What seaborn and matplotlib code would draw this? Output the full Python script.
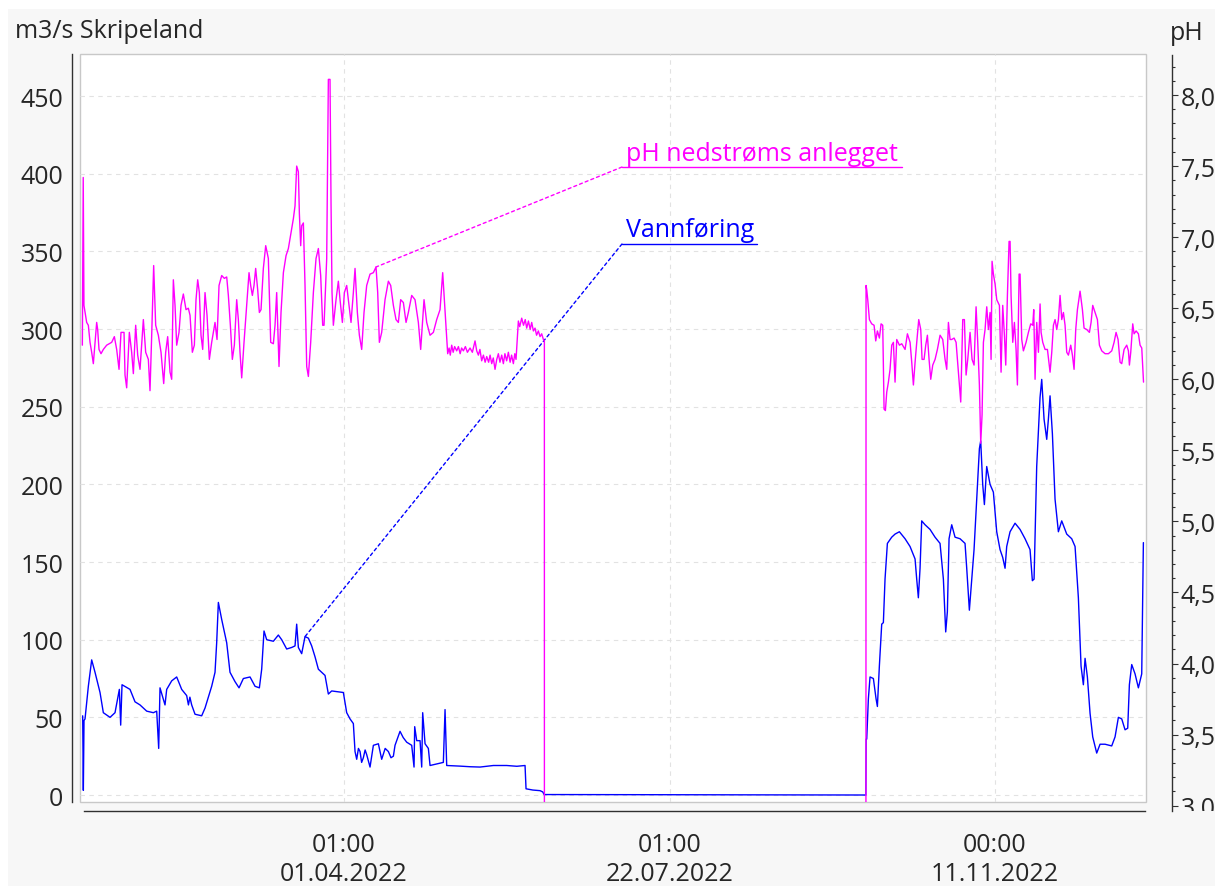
import numpy as np
import pandas as pd
import matplotlib
matplotlib.use("Agg")
import matplotlib.pyplot as plt
import matplotlib.dates as mdates
import seaborn as sns
from matplotlib.patches import Rectangle
from matplotlib.ticker import MultipleLocator, FixedLocator, FuncFormatter
from matplotlib.transforms import Bbox

# ---------------------------------------------------------------------------
# Measured series for 2022, time given as days since 2022-01-01 00:00
# ---------------------------------------------------------------------------
flow_days = [
    0.11, 0.34, 0.57, 0.92, 2.06, 3.21, 4.36, 6.08, 7.22, 9.52, 11.24, 12.73,
    13.19, 13.65, 16.40, 18.12, 19.84, 22.14, 24.43, 25.58, 26.27, 26.72, 28.44,
    29.02, 30.74, 32.46, 34.18, 35.90, 36.50, 37.00, 37.62, 38.77, 41.06, 42.21,
    44.50, 45.65, 46.22, 46.80, 47.95, 49.67, 50.81, 52.53, 53.91, 55.40, 57.70,
    59.42, 60.91, 61.71, 62.51, 63.43, 65.72, 67.44, 68.59, 70.31, 72.03, 73.18,
    73.75, 74.33, 75.47, 76.62, 77.77, 78.91, 80.06, 81.21, 83.50, 84.65, 85.80,
    89.81, 90.96, 92.11, 93.25, 93.83, 94.40, 95.00, 95.55, 96.10, 96.69, 97.30,
    97.84, 98.99, 100.14, 101.86, 103.00, 104.20, 105.30, 106.20, 107.02, 107.59,
    109.31, 110.40, 111.61, 113.33, 114.13, 114.36, 115.05, 116.20, 116.77,
    117.11, 117.92, 119.06, 119.64, 121.93, 124.22, 124.80, 125.37, 129.96,
    133.50, 136.84, 141.43, 146.02, 149.50, 152.33, 152.67, 155.00, 157.49,
    158.41, 158.90,
    269.60, 269.70, 269.90, 270.47, 271.04, 272.19, 273.11, 273.57, 274.25,
    275.06, 275.63, 276.20, 277.01, 278.50, 279.65, 281.14, 283.09, 284.81,
    286.53, 287.10, 287.67, 288.25, 288.82, 289.97, 291.69, 293.41, 295.13,
    296.28, 297.08, 297.65, 298.23, 299.15, 300.29, 302.01, 303.73, 304.31,
    305.22, 306.03, 306.83, 307.75, 308.67, 309.12, 309.81, 310.39, 311.19,
    312.34, 313.48, 314.63, 315.78, 316.69, 317.50, 318.07, 319.22, 320.94,
    322.66, 324.38, 326.10, 326.90, 327.48, 328.39, 329.54, 330.12, 330.92,
    331.84, 332.41, 332.98, 333.79, 334.70, 335.85, 337.00, 338.72, 340.44,
    341.59, 342.73, 343.65, 344.45, 345.03, 345.83, 346.75, 347.67, 349.04,
    350.19, 351.91, 354.20, 355.35, 356.50, 357.65, 358.79, 359.71, 360.28,
    361.09, 362.23, 363.38, 364.53, 365.10,
]
flow_m3s = [
    51, 3, 48, 49, 70, 87, 79, 66, 53, 50, 53, 68,
    45, 71, 68, 60, 58, 54, 53, 54, 30, 69, 58,
    68, 73.5, 76, 68, 64, 58, 63, 58, 52, 51, 56,
    70, 79, 98, 124, 113, 98, 79, 73, 69, 75, 76,
    70, 69, 81, 105.6, 100, 99, 103, 100, 94, 95, 96,
    110, 95, 91, 102, 101, 96, 89, 81, 77, 65, 67,
    66, 53, 49, 46, 28, 23, 30, 28, 21, 24, 29,
    26, 18, 32, 33, 23, 30, 28, 24, 25, 32,
    41, 37, 34, 32, 18, 44, 35, 35, 18,
    53, 33, 30, 19, 20, 21, 55, 19, 18.6,
    18.2, 18, 19, 19, 18.5, 19, 4, 3.2, 2.8,
    2.0, 0.3,
    0, 36, 36, 62, 76, 75, 62, 57, 83,
    110, 111, 139, 162, 166, 168, 169.5, 165, 160,
    152, 139, 127, 146, 176.5, 174, 171, 166, 162,
    139, 105, 118, 165, 174, 166, 165, 162, 146,
    119, 139, 158, 190.5, 223, 228, 200, 187, 211.5,
    200, 195, 169.5, 158, 153, 146, 160, 169.5, 175,
    171, 165, 158, 138, 139, 211.5, 256, 267.6, 242,
    229, 242, 257, 232.6, 190.5, 169.5, 176.5, 168, 165,
    160, 127, 83, 71, 88, 76, 52.6, 37.4, 27,
    32.7, 32.7, 31.6, 37.4, 50, 49, 42, 43, 71,
    84, 78, 69, 78, 162.5,
]

ph_days = [
    0.00, 0.30, 0.55, 1.49, 2.06, 2.64, 3.21, 3.78, 4.36, 4.93, 5.27, 5.73,
    6.42, 7.22, 8.37, 10.09, 11.01, 11.81, 12.62, 13.30, 14.34, 14.68, 15.25,
    16.17, 16.97, 17.55, 18.35, 19.04, 19.84, 20.99, 21.79, 22.71, 23.28, 23.86,
    24.54, 25.23, 26.15, 27.07, 27.99, 28.67, 29.36, 30.17, 30.74, 31.31, 31.89,
    32.46, 33.26, 33.95, 34.75, 35.67, 36.47, 37.05, 37.85, 38.54, 39.11, 39.69,
    40.26, 40.83, 41.41, 42.21, 42.90, 43.70, 44.50, 45.08, 45.65, 46.34, 47.03,
    47.95, 48.86, 49.67, 50.24, 50.93, 51.61, 52.30, 53.11, 53.68, 54.25, 54.83,
    55.63, 56.55, 57.35, 57.92, 58.50, 59.07, 59.64, 60.33, 60.91, 61.48, 62.28,
    63.09, 64.00, 64.81, 65.72, 66.30, 66.87, 67.67, 68.36, 69.17, 70.09, 70.89,
    71.81, 72.61, 73.18, 73.75, 74.33, 74.67, 75.13, 75.47, 76.05, 76.62, 77.20,
    77.77, 78.57, 79.49, 80.41, 81.21, 82.01, 82.70, 83.16, 84.08, 84.65, 85.22,
    85.57, 85.91, 86.37, 87.29, 88.09, 88.67, 89.47, 90.16, 90.96, 91.76, 92.45,
    93.25, 93.83, 94.63, 95.32, 96.12, 96.92, 97.84, 98.99, 100.14, 101.05,
    101.63, 102.20, 103.00, 104.15, 105.30, 106.10, 107.02, 107.93, 108.74,
    109.54, 110.46, 111.38, 112.18, 113.33, 114.47, 115.62, 116.42, 117.57,
    118.49, 119.64, 120.78, 121.93, 123.08, 123.99, 124.57, 125.14, 125.71,
    126.20, 126.60, 127.09, 127.60, 128.10, 128.81, 129.40, 130.00, 130.50,
    131.11, 131.80, 132.50, 133.40, 134.20, 135.12, 135.70, 136.27, 136.80,
    137.41, 138.00, 138.60, 139.14, 139.80, 140.30, 140.86, 141.40, 142.00,
    142.60, 143.15, 143.70, 144.30, 144.87, 145.40, 146.00, 146.59, 147.20,
    147.70, 148.31, 148.80, 149.23, 150.03, 150.50, 151.18, 151.80, 152.40,
    152.90, 153.50, 154.10, 154.62, 155.20, 155.77, 156.30, 156.91, 157.50,
    158.06, 158.64, 158.98, 159.00,
    269.60, 269.67, 269.90, 270.25, 270.82, 271.62, 272.43, 273.00, 273.57,
    274.26, 274.84, 275.41, 275.87, 276.33, 276.79, 277.36, 277.93, 278.51,
    279.08, 279.65, 280.23, 281.15, 281.95, 283.10, 283.90, 284.82, 285.39,
    285.96, 286.54, 287.11, 287.80, 288.49, 288.95, 289.63, 290.21, 290.78,
    291.35, 291.93, 292.62, 293.42, 294.22, 295.14, 296.06, 296.86, 297.43,
    298.01, 298.58, 299.15, 299.96, 300.65, 301.45, 302.25, 302.94, 303.51,
    304.09, 304.66, 305.46, 306.15, 306.84, 307.53, 308.10, 308.67, 309.13,
    309.59, 310.05, 310.62, 311.20, 311.77, 312.34, 312.69, 313.03, 313.49,
    314.07, 314.64, 315.56, 316.13, 316.70, 317.28, 317.74, 318.31, 318.88,
    319.23, 319.57, 320.15, 320.72, 321.29, 321.75, 322.33, 322.67, 323.24,
    323.81, 324.73, 325.54, 326.34, 327.03, 327.37, 327.83, 328.40, 328.98,
    329.55, 329.90, 330.47, 331.27, 332.08, 332.99, 333.57, 334.14, 334.71,
    335.29, 335.86, 336.43, 337.01, 337.58, 338.15, 338.73, 339.30, 340.10,
    340.68, 341.25, 341.82, 342.40, 343.31, 344.12, 344.69, 345.61, 346.53,
    347.10, 347.67, 348.48, 349.28, 349.97, 350.77, 351.92, 353.07, 354.21,
    355.02, 355.70, 356.39, 357.08, 357.65, 358.46, 359.37, 359.95, 360.29,
    360.75, 361.44, 361.90, 362.59, 363.39, 363.96, 364.54, 365.00, 365.15,
]
ph_values = [
    6.24, 7.42, 6.52, 6.40, 6.38, 6.26, 6.19, 6.11, 6.26, 6.40, 6.35, 6.21,
    6.18, 6.21, 6.24, 6.26, 6.30, 6.21, 6.07, 6.33, 6.33, 6.03, 5.94,
    6.33, 6.19, 6.04, 6.38, 6.17, 6.07, 6.42, 6.19, 6.14, 5.92, 6.31,
    6.80, 6.38, 6.31, 6.19, 5.97, 6.19, 6.30, 6.05, 6.00, 6.70, 6.52,
    6.24, 6.33, 6.52, 6.60, 6.49, 6.50, 6.45, 6.19, 6.24, 6.56, 6.70,
    6.61, 6.31, 6.21, 6.61, 6.45, 6.14, 6.26, 6.33, 6.40, 6.28, 6.66,
    6.73, 6.71, 6.72, 6.59, 6.38, 6.14, 6.24, 6.56, 6.42, 6.19, 6.01,
    6.26, 6.52, 6.75, 6.66, 6.59, 6.66, 6.78, 6.63, 6.47, 6.49, 6.78,
    6.94, 6.85, 6.26, 6.25, 6.38, 6.61, 6.09, 6.47, 6.75, 6.87, 6.92,
    7.03, 7.13, 7.22, 7.50, 7.46, 7.17, 6.94, 7.08, 7.10, 6.66, 6.09,
    6.02, 6.26, 6.61, 6.85, 6.92, 6.73, 6.38, 6.38, 6.85, 8.11, 8.11,
    7.24, 6.61, 6.38, 6.56, 6.69, 6.56, 6.40, 6.61, 6.66, 6.52, 6.40,
    6.61, 6.78, 6.47, 6.31, 6.21, 6.47, 6.66, 6.74, 6.75, 6.79,
    6.61, 6.26, 6.33, 6.56, 6.69, 6.66, 6.52, 6.42, 6.40,
    6.56, 6.54, 6.40, 6.47, 6.59, 6.56, 6.40, 6.21, 6.56,
    6.40, 6.31, 6.33, 6.42, 6.49, 6.75, 6.56, 6.38, 6.18,
    6.22, 6.17, 6.24, 6.19, 6.23, 6.20, 6.23, 6.18, 6.22,
    6.20, 6.23, 6.19, 6.22, 6.19, 6.27, 6.20, 6.17, 6.21,
    6.13, 6.17, 6.12, 6.16, 6.12, 6.17, 6.11, 6.15, 6.07,
    6.14, 6.18, 6.12, 6.17, 6.11, 6.18, 6.13, 6.19, 6.12,
    6.17, 6.11, 6.18, 6.14, 6.41, 6.37, 6.43, 6.38, 6.42,
    6.36, 6.41, 6.35, 6.40, 6.34, 6.36, 6.31, 6.34, 6.30,
    6.32, 6.28, 6.27, 0.0,
    0.0, 6.66, 6.63, 6.56, 6.42, 6.39, 6.38, 6.27, 6.34,
    6.29, 6.39, 6.38, 5.79, 5.78, 5.91, 5.98, 6.07, 6.24,
    6.26, 5.98, 6.28, 6.24, 6.25, 6.21, 6.32, 6.26, 6.12,
    5.96, 6.12, 6.26, 6.42, 6.35, 6.14, 6.14, 6.24, 6.31,
    6.14, 6.00, 6.10, 6.14, 6.21, 6.31, 6.28, 6.14, 6.07,
    6.40, 6.28, 6.28, 6.29, 6.26, 6.05, 5.84, 6.42, 6.42,
    6.03, 6.14, 6.33, 6.14, 6.10, 6.51, 6.26, 5.96, 5.55,
    5.75, 6.26, 6.35, 6.51, 6.35, 6.47, 6.14, 6.83, 6.74,
    6.67, 6.56, 6.52, 6.05, 6.52, 6.31, 6.10, 6.59, 6.97,
    6.97, 6.59, 6.26, 6.40, 6.21, 5.96, 6.74, 6.74, 6.28,
    6.20, 6.26, 6.33, 6.39, 6.38, 6.49, 6.00, 6.40, 6.19,
    6.53, 6.33, 6.26, 6.21, 6.21, 6.05, 6.19, 6.38, 6.42,
    6.35, 6.42, 6.59, 6.42, 6.47, 6.38, 6.19, 6.17, 6.24,
    6.17, 6.07, 6.35, 6.49, 6.62, 6.49, 6.36, 6.35, 6.33,
    6.40, 6.52, 6.47, 6.42, 6.24, 6.20, 6.18, 6.18, 6.20,
    6.26, 6.33, 6.28, 6.12, 6.11, 6.21, 6.24, 6.20, 6.10,
    6.19, 6.39, 6.32, 6.34, 6.32, 6.24, 6.22, 6.03, 5.98,
]

# Callout anchors (days, value) and labels
ph_label = "pH nedstrøms anlegget"
flow_label = "Vannføring"
ph_anchor = (101.05, 6.79)
flow_anchor = (76.62, 102)

# Date axis: major ticks with clock and date lines
major_ticks = ["2022-04-01 01:00", "2022-07-22 01:00", "2022-11-11 00:00"]
major_labels = ["01:00\n01.04.2022", "01:00\n22.07.2022", "00:00\n11.11.2022"]

# ---------------------------------------------------------------------------
t0 = pd.Timestamp("2022-01-01")
flow_df = pd.DataFrame({"tid": t0 + pd.to_timedelta(flow_days, unit="D"),
                        "vannforing": flow_m3s})
ph_df = pd.DataFrame({"tid": t0 + pd.to_timedelta(ph_days, unit="D"),
                      "ph": ph_values})

sns.set_style("white")
plt.rcParams["font.family"] = ["Open Sans", "DejaVu Sans"]
TXT = "#262626"
FS = 18

W, H = 1215, 887
fig = plt.figure(figsize=(W / 100, H / 100), dpi=100, facecolor="white")
fig.patches.append(Rectangle((8 / W, 0), 1, (H - 10) / H, transform=fig.transFigure,
                             facecolor="#f7f7f7", edgecolor="none", zorder=-10))


def px_box(x0, y0, x1, y1):
    return [x0 / W, (H - y1) / H, (x1 - x0) / W, (y1 - y0) / H]


ax = fig.add_axes(px_box(80, 55, 1146, 803))
ax2 = fig.add_axes(px_box(80, 56, 1146, 812), sharex=ax)
ax.set_facecolor("white")
ax2.patch.set_visible(False)

BLUE = "#0000ff"
MAGENTA = "#ff00ff"

sns.lineplot(data=flow_df, x="tid", y="vannforing", ax=ax, color=BLUE, lw=1.0,
             estimator=None, sort=False)
sns.lineplot(data=ph_df, x="tid", y="ph", ax=ax2, color=MAGENTA, lw=1.0,
             estimator=None, sort=False)
for ln in ax2.lines:
    ln.set_clip_box(ax.bbox)

# x range and ticks
x_lo = t0 + pd.Timedelta(days=-0.81)
x_hi = t0 + pd.Timedelta(days=366.0)
ax.set_xlim(x_lo, x_hi)
majors = [pd.Timestamp(s) for s in major_ticks]
step = pd.Timedelta(days=22.4)
minors = [majors[0] + k * step for k in range(-4, 13) if k not in (0, 5, 10)]
ax.xaxis.set_major_locator(FixedLocator(mdates.date2num(majors)))
ax.xaxis.set_minor_locator(FixedLocator(mdates.date2num(minors)))
ax.set_xticklabels(major_labels, linespacing=1.84)
ax.spines["bottom"].set_bounds(mdates.date2num(t0 + pd.Timedelta(days=0.44)),
                               mdates.date2num(t0 + pd.Timedelta(days=365.7)))

# left axis (flow)
ax.set_ylim(-4.5, 477.1)
ax.yaxis.set_major_locator(MultipleLocator(50))
ax.yaxis.set_minor_locator(MultipleLocator(10))
ax.set_xlabel("")
ax.set_ylabel("")

# right axis (pH)
ax2.set_ylim(2.9627, 8.2815)
ax2.yaxis.set_major_locator(MultipleLocator(0.5))
ax2.yaxis.set_minor_locator(MultipleLocator(0.1))
ax2.yaxis.set_major_formatter(FuncFormatter(lambda v, p: f"{v:.1f}".replace(".", ",")))
ax2.yaxis.tick_right()
ax2.set_ylabel("")
ax2.set_xlabel("")
ax2.xaxis.set_visible(False)
ax2.grid(False)

# grid and frame
ax.grid(True, which="major", color="#e2e2e2", ls=(0, (4, 4)), lw=0.8)
ax.set_axisbelow(True)
ax.add_patch(Rectangle((0, 0), 1, 1, transform=ax.transAxes, fill=False,
                       edgecolor="#c8c8c8", lw=1.0, clip_on=False, zorder=0.5))

SP = "#303030"
for s in ("top", "right"):
    ax.spines[s].set_visible(False)
for s in ("top", "left", "bottom"):
    ax2.spines[s].set_visible(False)
ax.spines["left"].set_position(("outward", 8 * 0.72))
ax.spines["bottom"].set_position(("outward", 9 * 0.72))
ax2.spines["right"].set_position(("outward", 26 * 0.72))
for sp in (ax.spines["left"], ax.spines["bottom"], ax2.spines["right"]):
    sp.set_color(SP)
    sp.set_linewidth(1.0)

ax.tick_params(axis="y", which="major", direction="out", length=4.3, width=0.8,
               color=SP, labelsize=FS, labelcolor=TXT, pad=2)
ax.tick_params(axis="y", which="minor", direction="out", length=2.2, width=0.8, color=SP)
ax.tick_params(axis="x", which="major", direction="out", length=3, width=0.8,
               color=SP, labelsize=FS, labelcolor=TXT, pad=12.4)
ax.tick_params(axis="x", which="minor", direction="out", length=1.6, width=0.8, color=SP)
ax2.tick_params(axis="y", which="major", direction="out", length=4.3, width=0.8,
                color=SP, labelsize=FS, labelcolor=TXT, pad=2)
ax2.tick_params(axis="y", which="minor", direction="out", length=2.2, width=0.8, color=SP)

# axis captions
fig.text(15 / W, 1 - 32 / H, "m3/s Skripeland", ha="left", va="center",
         fontsize=FS, color=TXT)
fig.text(1170 / W, 1 - 33 / H, "pH", ha="left", va="center", fontsize=FS, color=TXT)


# callouts: label with underline and dashed leader to the series point
def callout(text, color, anchor_days, anchor_val, axis, fx0, fx1, fy, ty):
    xa = mdates.date2num(t0 + pd.Timedelta(days=anchor_days))
    ax.text(fx0 + 0.004, ty, text, transform=ax.transAxes, color=color,
            fontsize=FS, ha="left", va="baseline", zorder=6)
    ax.plot([fx0, fx1], [fy, fy], transform=ax.transAxes, color=color, lw=1.0,
            zorder=6)
    ax.annotate("", xy=(xa, anchor_val), xycoords=axis.transData,
                xytext=(fx0, fy), textcoords=ax.transAxes,
                arrowprops=dict(arrowstyle="-", color=color, lw=1.0,
                                linestyle=(0, (2.2, 2.2)), shrinkA=0, shrinkB=0),
                zorder=6)


callout(ph_label, MAGENTA, *ph_anchor, ax2, 0.5084, 0.7711, 0.8489, 0.8583)
callout(flow_label, BLUE, *flow_anchor, ax, 0.5084, 0.6351, 0.7460, 0.7567)

# bottom pH label is cut at the lower end of the pH scale
fig.canvas.draw()
clip = Bbox.from_extents(0, H - 812, W, H)
for tick in ax2.yaxis.get_major_ticks():
    tick.label2.set_clip_box(clip)
    tick.label2.set_clip_on(True)

fig.savefig("out.png", dpi=100, facecolor=fig.get_facecolor())
